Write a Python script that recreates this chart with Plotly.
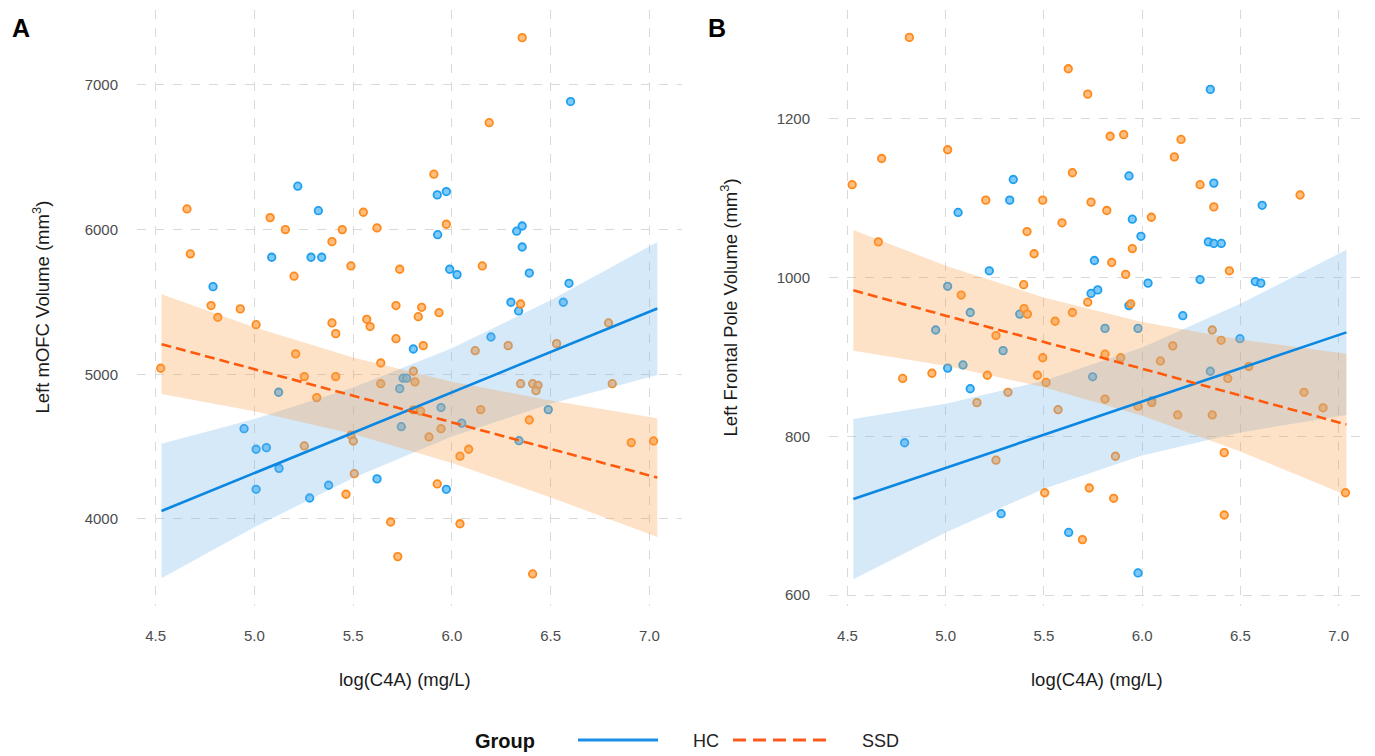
import plotly.graph_objects as go

# ---------------- data ----------------
# Panel A: Left mOFC volume
hc_a_x = [5.220, 5.324, 5.088, 5.287, 5.341, 4.791, 6.601, 5.926, 5.972, 5.928,
          5.989, 6.026, 6.356, 6.328, 6.356, 6.392, 6.593, 6.299, 6.338, 6.564,
          5.123, 4.948, 5.009, 5.061, 5.125, 5.009, 5.280, 5.376, 5.621, 5.805,
          5.753, 5.771, 5.736, 5.744, 6.198, 5.945, 6.050, 6.488, 6.340, 5.972]
hc_a_y = [6300, 6131, 5809, 5809, 5809, 5606, 6885, 6240, 6263, 5965,
          5726, 5689, 6025, 5989, 5880, 5700, 5629, 5498, 5438, 5498,
          4876, 4624, 4482, 4493, 4350, 4205, 4145, 4233, 4277, 5175,
          4973, 4973, 4901, 4638, 5258, 4770, 4662, 4756, 4541, 4205]
ssd_a_x = [4.659, 4.676, 5.080, 5.157, 5.201, 5.393, 5.445, 5.489, 5.552, 5.621,
           5.736, 5.717, 4.781, 4.815, 4.929, 6.356, 6.189, 5.909, 5.972, 6.154,
           5.847, 5.830, 5.935, 6.348, 5.009, 4.526, 5.209, 5.393, 5.412, 5.569,
           5.586, 5.717, 5.253, 5.412, 5.316, 5.640, 5.640, 5.805, 5.813, 5.805,
           5.253, 5.489, 5.501, 5.506, 5.464, 5.690, 5.726, 5.855, 6.118, 6.285,
           6.530, 6.793, 6.348, 6.409, 6.436, 6.426, 6.812, 6.146, 6.392, 5.842,
           5.945, 5.884, 6.085, 6.041, 6.908, 7.021, 5.926, 6.041, 6.409]
ssd_a_y = [6143, 5832, 6083, 6000, 5678, 5917, 6000, 5749, 6120, 6012,
           5726, 5475, 5475, 5394, 5452, 7327, 6739, 6383, 6037, 5749,
           5463, 5398, 5426, 5486, 5343, 5042, 5141, 5355, 5281, 5380,
           5330, 5246, 4984, 4984, 4839, 5078, 4935, 5021, 4947, 4754,
           4505, 4579, 4539, 4313, 4171, 3979, 3740, 5198, 5163, 5198,
           5212, 5355, 4935, 4935, 4924, 4887, 4935, 4756, 4684, 4745,
           4624, 4567, 4482, 4434, 4528, 4539, 4242, 3967, 3620]

# Panel B: Left frontal pole volume
hc_b_x = [5.344, 5.326, 5.063, 5.222, 5.010, 5.125, 5.377, 5.757, 5.740, 5.774,
          6.347, 5.933, 6.365, 6.611, 5.950, 5.994, 6.337, 6.365, 6.403, 6.030,
          6.295, 6.576, 6.604, 5.933, 6.207, 4.949, 5.292, 5.010, 5.088, 5.125,
          5.748, 4.791, 5.282, 5.626, 5.811, 5.979, 6.498, 6.347, 6.049, 5.979]
hc_b_y = [1123.5, 1097.5, 1082, 1008.5, 989, 956, 954, 1021.5, 980, 984.5,
          1237, 1128, 1119, 1091, 1073.5, 1052, 1045, 1043, 1043, 993,
          997.5, 995, 993, 964.7, 952, 934, 908, 886, 890, 860,
          875, 792, 702.6, 679, 936, 936, 923, 882, 844.6, 628]
ssd_b_x = [4.815, 5.624, 5.723, 5.010, 4.674, 4.524, 5.645, 5.204, 5.494, 5.740,
           5.592, 5.414, 5.450, 4.657, 5.397, 5.079, 5.399, 5.416, 5.645, 5.723,
           5.837, 5.906, 6.198, 6.164, 6.295, 6.365, 6.804, 5.820, 6.047, 5.950,
           5.845, 5.916, 6.444, 5.942, 5.557, 5.256, 5.494, 4.781, 4.930, 5.212,
           5.467, 5.511, 5.317, 5.159, 5.572, 5.256, 5.504, 5.731, 5.696, 5.811,
           5.891, 6.156, 6.357, 6.402, 6.093, 6.543, 6.436, 6.824, 6.921, 5.811,
           5.979, 6.049, 6.181, 6.357, 5.864, 6.418, 5.855, 6.418, 7.035]
ssd_b_y = [1302.5, 1263, 1231, 1161, 1150, 1117, 1132, 1097.5, 1097.5, 1095,
           1069, 1058, 1030, 1045, 991, 978, 961, 954, 956, 969,
           1178, 1180, 1174, 1152, 1117, 1089, 1104, 1084.5, 1076, 1036.5,
           1019, 1004, 1008.5, 967, 945, 927, 899, 873, 879.5, 877,
           877, 868, 855.5, 842.5, 833.6, 770, 729, 735, 670, 903.5,
           899, 914, 934, 921, 895, 888, 873, 855.5, 836, 847,
           838, 842.5, 827, 827, 775, 779.5, 722, 701, 729]

# Fitted lines and confidence bands
fit_x = [4.53, 5.0, 5.5, 6.0, 6.5, 7.04]
hc_a_fit = [4055, 4317, 4596, 4875, 5154, 5455]
hc_a_lo = [3590, 3943, 4284, 4570, 4796, 4996]
hc_a_hi = [4520, 4691, 4908, 5180, 5512, 5914]
ssd_a_fit = [5208, 5035, 4852, 4668, 4484, 4286]
ssd_a_lo = [4863, 4745, 4588, 4387, 4149, 3876]
ssd_a_hi = [5553, 5325, 5116, 4949, 4819, 4696]
hc_b_fit = [721, 760, 802, 844, 886, 931]
hc_b_lo = [620, 679, 734, 776, 805, 827]
hc_b_hi = [822, 841, 870, 912, 967, 1035]
ssd_b_fit = [984, 952, 919, 885, 851, 815]
ssd_b_lo = [908, 889, 862, 826, 781, 726]
ssd_b_hi = [1060, 1015, 975, 944, 922, 904]

x_ticks = [4.5, 5.0, 5.5, 6.0, 6.5, 7.0]
x_ticktext = ["4.5", "5.0", "5.5", "6.0", "6.5", "7.0"]
ya_ticks = [4000, 5000, 6000, 7000]
yb_ticks = [600, 800, 1000, 1200]

groups = ["HC", "SSD"]

# ---------------- styles ----------------
# the page adds an 8px body margin, so the figure is offset by 8px;
# all positions below are given in page pixels and shifted by that offset
OFF = 8
W, H = 1375 - OFF, 756 - OFF
FONT = "Liberation Sans, Arial, sans-serif"
HC_PT = "#1e9ff0"
HC_PT_FILL = "rgba(95,188,246,0.8)"
SSD_PT = "#ff8a1c"
SSD_PT_FILL = "rgba(255,172,95,0.8)"
HC_LINE = "#0b87e2"
SSD_LINE = "#ff5a0c"
HC_BAND = "rgba(115,182,235,0.30)"
SSD_BAND = "rgba(248,158,72,0.30)"

fig = go.Figure()


def add_panel(xa, ya, hx, hy, sx, sy, hfit, hlo, hhi, sfit, slo, shi):
    fig.add_trace(go.Scatter(x=hx, y=hy, mode="markers", xaxis=xa, yaxis=ya,
                             marker=dict(size=7.5, color=HC_PT_FILL,
                                         line=dict(color=HC_PT, width=1.8)),
                             showlegend=False, name=groups[0]))
    fig.add_trace(go.Scatter(x=sx, y=sy, mode="markers", xaxis=xa, yaxis=ya,
                             marker=dict(size=7.5, color=SSD_PT_FILL,
                                         line=dict(color=SSD_PT, width=1.8)),
                             showlegend=False, name=groups[1]))
    fig.add_trace(go.Scatter(x=fit_x + fit_x[::-1], y=hhi + hlo[::-1],
                             fill="toself", fillcolor=HC_BAND, mode="lines",
                             line=dict(width=0), xaxis=xa, yaxis=ya,
                             hoverinfo="skip", showlegend=False))
    fig.add_trace(go.Scatter(x=fit_x + fit_x[::-1], y=shi + slo[::-1],
                             fill="toself", fillcolor=SSD_BAND, mode="lines",
                             line=dict(width=0), xaxis=xa, yaxis=ya,
                             hoverinfo="skip", showlegend=False))
    fig.add_trace(go.Scatter(x=fit_x, y=hfit, mode="lines", xaxis=xa, yaxis=ya,
                             line=dict(color=HC_LINE, width=2.6),
                             showlegend=False, name=groups[0]))
    fig.add_trace(go.Scatter(x=fit_x, y=sfit, mode="lines", xaxis=xa, yaxis=ya,
                             line=dict(color=SSD_LINE, width=2.6, dash="10px,5px"),
                             showlegend=False, name=groups[1]))


add_panel("x", "y", hc_a_x, hc_a_y, ssd_a_x, ssd_a_y,
          hc_a_fit, hc_a_lo, hc_a_hi, ssd_a_fit, ssd_a_lo, ssd_a_hi)
add_panel("x2", "y2", hc_b_x, hc_b_y, ssd_b_x, ssd_b_y,
          hc_b_fit, hc_b_lo, hc_b_hi, ssd_b_fit, ssd_b_lo, ssd_b_hi)

# ---------------- axes ----------------
grid = dict(showgrid=True, gridcolor="#d9d9d9", gridwidth=1.3, griddash="dash",
            zeroline=False, showline=False, ticks="",
            tickfont=dict(family=FONT, size=15, color="#4d4d4d"))


def px_x(p):
    return min(1.0, max(0.0, (p - OFF) / W))


def px_y(p):
    return min(1.0, max(0.0, 1 - (p - OFF) / H))


y_dom = [px_y(605.5), px_y(10)]
fig.update_layout(
    xaxis=dict(domain=[px_x(137), px_x(682)], range=[4.406, 7.165], anchor="y",
               tickvals=x_ticks, ticktext=x_ticktext, ticklabelstandoff=19, **grid),
    yaxis=dict(domain=y_dom, range=[3402, 7518], anchor="x",
               tickvals=ya_ticks, ticklabelstandoff=18, **grid),
    xaxis2=dict(domain=[px_x(829), px_x(1371)], range=[4.406, 7.165], anchor="y2",
                tickvals=x_ticks, ticktext=x_ticktext, ticklabelstandoff=19, **grid),
    yaxis2=dict(domain=y_dom, range=[587, 1337], anchor="x2",
                tickvals=yb_ticks, ticklabelstandoff=18, **grid),
)

# ---------------- text ----------------
ann = []
title_font = dict(family=FONT, size=18.5, color="#1a1a1a")
ann.append(dict(text="Left mOFC Volume (mm<sup>3</sup>)", x=px_x(41), y=px_y(307.5),
                textangle=-90, font=title_font))
ann.append(dict(text="Left Frontal Pole Volume (mm<sup>3</sup>)", x=px_x(729), y=px_y(307.5),
                textangle=-90, font=title_font))
ann.append(dict(text="log(C4A) (mg/L)", x=px_x(405), y=px_y(679), font=title_font))
ann.append(dict(text="log(C4A) (mg/L)", x=px_x(1097), y=px_y(679), font=title_font))
ann.append(dict(text="<b>A</b>", x=px_x(21), y=px_y(28),
                font=dict(family=FONT, size=25, color="#000000")))
ann.append(dict(text="<b>B</b>", x=px_x(717), y=px_y(28),
                font=dict(family=FONT, size=25, color="#000000")))
# legend
ann.append(dict(text="<b>Group</b>", x=px_x(505), y=px_y(741),
                font=dict(family=FONT, size=20, color="#111111")))
ann.append(dict(text=groups[0], x=px_x(706), y=px_y(741),
                font=dict(family=FONT, size=18, color="#222222")))
ann.append(dict(text=groups[1], x=px_x(880), y=px_y(741),
                font=dict(family=FONT, size=18, color="#222222")))
for a in ann:
    a.update(xref="paper", yref="paper", showarrow=False, xanchor="center", yanchor="middle")

shapes = [
    dict(type="line", xref="paper", yref="paper", x0=px_x(578), x1=px_x(658),
         y0=px_y(740), y1=px_y(740), line=dict(color="#1b8ee8", width=3)),
    dict(type="line", xref="paper", yref="paper", x0=px_x(733), x1=px_x(833),
         y0=px_y(740), y1=px_y(740), line=dict(color="#ff5a1e", width=3, dash="13px,7px")),
]

fig.update_layout(
    width=W, height=H,
    margin=dict(l=0, r=0, t=0, b=0),
    paper_bgcolor="white", plot_bgcolor="white",
    annotations=ann, shapes=shapes,
    showlegend=False,
    font=dict(family=FONT),
)

fig.write_html("out.html")
